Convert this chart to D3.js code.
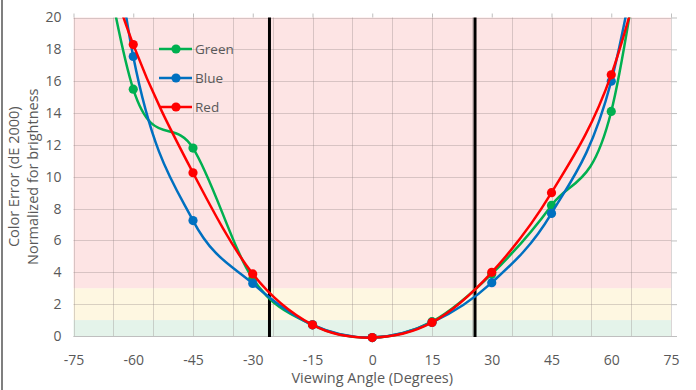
<!DOCTYPE html>
<html><head><meta charset="utf-8">
<script src="https://cdn.jsdelivr.net/npm/d3@7"></script>
<style>
html,body{margin:0;padding:0;background:#fff;}
text{font-family:"Open Sans",Calibri,sans-serif;fill:#595959;}
</style></head>
<body>
<svg id="c" width="696" height="390"></svg>
<script>
// ---- data ----
const angles = [-75, -60, -45, -30, -15, 0, 15, 30, 45, 60, 75];
const green  = [35, 15.5, 11.8, 3.6, 0.7, -0.1, 0.9, 3.9, 8.2, 14.1, 38];
const blue   = [45, 17.55, 7.25, 3.3, 0.7, -0.1, 0.85, 3.35, 7.7, 16.0, 36];
const red    = [30, 18.3, 10.25, 3.9, 0.7, -0.1, 0.85, 4.0, 9.0, 16.4, 30];
const seriesNames = ["Green", "Blue", "Red"];
const xTicks = [-75, -60, -45, -30, -15, 0, 15, 30, 45, 60, 75];
const yTicks = [0, 2, 4, 6, 8, 10, 12, 14, 16, 18, 20];
const xGrid = [-75, -65, -55, -45, -35, -25, -15, -5, 5, 15, 25, 35, 45, 55, 65, 75];
const limitAngles = [-25.8, 25.8];
const bands = [{from: 0, to: 1, color: "#e4f3ea"}, {from: 1, to: 3, color: "#fef7e1"}, {from: 3, to: 20, color: "#fde4e4"}];

const colors = {Green: "#00b050", Blue: "#0070c0", Red: "#ff0000"};
const values = {Green: green, Blue: blue, Red: red};

const svg = d3.select("#c");
const L = 73.5, R = 671, T = 17.5, B = 336;
const x = d3.scaleLinear().domain([-75, 75]).range([L, R]);
const y = d3.scaleLinear().domain([0, 20]).range([B, T]);
const fmt = d => String(d);

// left frame line
svg.append("rect").attr("x", 1).attr("y", 0).attr("width", 2).attr("height", 390).attr("fill", "#7f7f7f");

// bands
svg.selectAll("rect.band").data(bands).enter().append("rect")
  .attr("x", L).attr("width", R - L)
  .attr("y", d => y(d.to)).attr("height", d => y(d.from) - y(d.to))
  .attr("fill", d => d.color);

// grid
const grid = svg.append("g").attr("stroke", "#8c7f7f").attr("stroke-opacity", 0.32).attr("stroke-width", 1);
grid.selectAll("line.h").data(yTicks).enter().append("line")
  .attr("x1", L).attr("x2", R).attr("y1", d => Math.round(y(d)) + 0.5).attr("y2", d => Math.round(y(d)) + 0.5);
grid.selectAll("line.v").data(xGrid).enter().append("line")
  .attr("y1", T).attr("y2", B).attr("x1", d => Math.round(x(d)) + 0.5).attr("x2", d => Math.round(x(d)) + 0.5);

// bottom axis
const xAxis = d3.axisBottom(x).tickValues(xTicks).tickSize(0).tickPadding(19).tickFormat(fmt);
const gx = svg.append("g").attr("transform", `translate(0,${B})`).call(xAxis);
gx.select(".domain").attr("stroke", "#bfbfbf").attr("d", `M${L},0.5H${R + 6}`);
gx.selectAll("text").attr("font-size", 14).attr("fill", "#595959").style("font-family", '"Open Sans",sans-serif');

// left axis
const yAxis = d3.axisLeft(y).tickValues(yTicks).tickSize(0).tickPadding(12).tickFormat(fmt);
const gy = svg.append("g").attr("transform", `translate(${L},0)`).call(yAxis);
gy.select(".domain").remove();
gy.selectAll("text").attr("font-size", 14).attr("fill", "#595959").style("font-family", '"Open Sans",sans-serif');

// top ticks (secondary)
const gt = svg.append("g").attr("transform", `translate(0,${T})`).call(d3.axisTop(x).tickValues(xTicks).tickSize(4).tickFormat(""));
gt.select(".domain").remove();
gt.selectAll("line").attr("stroke", "#bfbfbf");
// right ticks (secondary)
const gr = svg.append("g").attr("transform", `translate(${R},0)`).call(d3.axisRight(y).tickValues(yTicks).tickSize(6).tickFormat(""));
gr.select(".domain").remove();
gr.selectAll("line").attr("stroke", "#bfbfbf");

// limit lines
svg.selectAll("line.lim").data(limitAngles).enter().append("line")
  .attr("x1", d => x(d)).attr("x2", d => x(d)).attr("y1", T).attr("y2", B + 1)
  .attr("stroke", "#000").attr("stroke-width", 3);

// clip
svg.append("clipPath").attr("id", "clip").append("rect")
  .attr("x", L).attr("y", T).attr("width", R - L).attr("height", 390 - T);
const plot = svg.append("g").attr("clip-path", "url(#clip)");

const line = d3.line().x(d => x(d[0])).y(d => y(d[1])).curve(d3.curveCardinal.tension(0));
seriesNames.forEach(name => {
  const pts = angles.map((a, i) => [a, values[name][i]]);
  plot.append("path").attr("d", line(pts)).attr("fill", "none")
    .attr("stroke", colors[name]).attr("stroke-width", 2.5);
  plot.selectAll(null).data(pts.filter(p => p[1] <= 20)).enter().append("circle")
    .attr("cx", d => x(d[0])).attr("cy", d => y(d[1])).attr("r", 4.6)
    .attr("fill", colors[name]);
});

// legend
const lg = svg.append("g");
seriesNames.forEach((name, i) => {
  const cy = 49 + i * 29;
  lg.append("line").attr("x1", 159).attr("x2", 192).attr("y1", cy).attr("y2", cy)
    .attr("stroke", colors[name]).attr("stroke-width", 2.5);
  lg.append("circle").attr("cx", 176).attr("cy", cy).attr("r", 4.6).attr("fill", colors[name]);
  lg.append("text").attr("x", 195).attr("y", cy).attr("dy", "0.35em").attr("font-size", 13.5).text(name);
});

// axis titles
svg.append("text").attr("x", (L + R) / 2).attr("y", 383).attr("text-anchor", "middle").attr("font-size", 14.5)
  .text("Viewing Angle (Degrees)");
svg.append("text").attr("transform", `translate(19,${(T + B) / 2}) rotate(-90)`).attr("text-anchor", "middle").attr("font-size", 14.5)
  .text("Color Error (dE 2000)");
svg.append("text").attr("transform", `translate(38,${(T + B) / 2}) rotate(-90)`).attr("text-anchor", "middle").attr("font-size", 14.5)
  .text("Normalized for brightness");
</script>
</body></html>
